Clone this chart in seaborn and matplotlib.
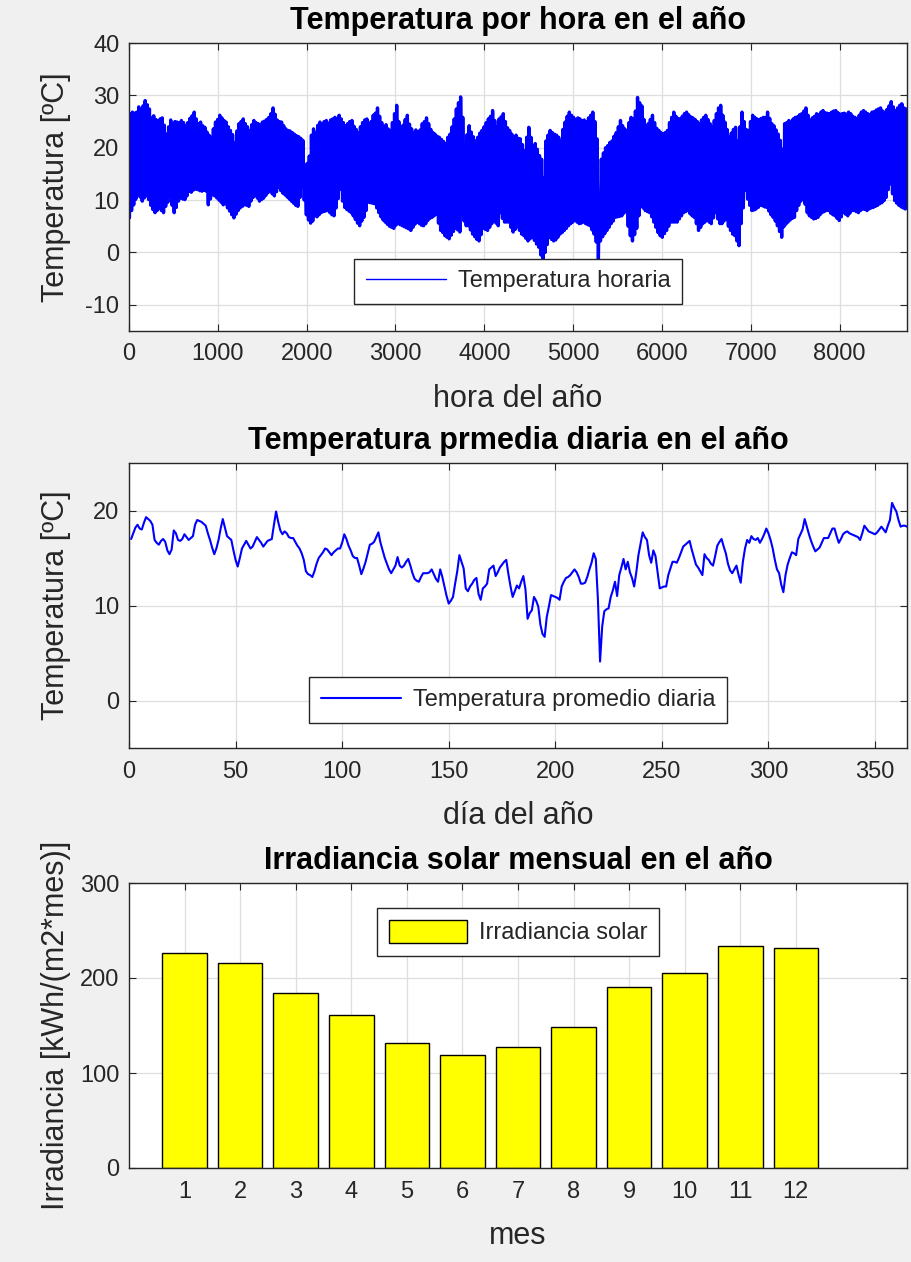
import numpy as np
import pandas as pd
import matplotlib
matplotlib.use("Agg")
import matplotlib.pyplot as plt
import seaborn as sns

# Daily extremes of the hourly temperature record (ºC), day 1..365
temp_max_diaria = [
    26.5, 26.8, 26.6, 26.8, 27.8, 27.2, 28.0, 29.0, 28.2, 27.4,
    25.7, 26.1, 25.4, 25.2, 25.5, 25.7, 24.3, 22.6, 24.0, 25.3,
    24.6, 25.0, 24.9, 24.7, 25.2, 24.8, 24.2, 24.8, 25.6, 26.1,
    26.8, 25.5, 24.6, 24.9, 24.2, 23.9, 23.0, 22.4, 22.0, 23.6,
    24.9, 25.4, 26.2, 25.7, 25.2, 24.9, 24.0, 23.3, 22.5, 21.0,
    23.2, 24.6, 25.0, 25.5, 24.6, 24.0, 23.3, 24.4, 25.2, 24.8,
    24.6, 24.3, 24.9, 25.1, 25.4, 25.8, 26.5, 27.6, 26.4, 25.3,
    25.0, 24.9, 24.2, 23.6, 23.3, 23.2, 22.9, 22.6, 22.3, 22.1,
    21.8, 21.4, 16.2, 17.0, 18.4, 22.4, 23.6, 22.9, 24.3, 24.9,
    24.5, 25.0, 25.2, 24.7, 25.3, 25.5, 25.8, 25.6, 26.2, 25.5,
    24.8, 24.2, 24.6, 25.0, 25.2, 24.1, 23.5, 22.9, 24.0, 24.8,
    25.3, 25.5, 23.9, 25.0, 26.2, 26.6, 27.6, 26.0, 24.8, 23.9,
    24.4, 23.6, 23.3, 24.8, 26.5, 28.1, 25.0, 22.6, 24.3, 25.4,
    26.2, 24.5, 23.6, 22.9, 23.4, 22.3, 23.4, 24.6, 25.0, 25.7,
    24.6, 23.5, 22.9, 22.6, 22.2, 22.0, 21.6, 21.2, 20.7, 22.0,
    22.6, 24.0, 25.5, 27.4, 28.6, 29.7, 25.8, 20.0, 22.5, 24.2,
    23.0, 22.1, 21.3, 22.0, 22.8, 23.3, 24.0, 24.8, 25.5, 26.0,
    27.1, 25.2, 23.9, 25.5, 25.9, 26.5, 25.0, 23.8, 23.3, 22.6,
    22.0, 22.4, 21.8, 21.7, 20.6, 19.4, 22.0, 23.9, 22.0, 20.4,
    20.8, 19.7, 18.5, 17.8, 14.3, 21.3, 22.4, 23.3, 22.9, 22.6,
    22.4, 22.0, 21.3, 23.5, 24.9, 26.0, 26.8, 26.2, 25.8, 25.4,
    25.7, 25.5, 25.2, 25.3, 25.0, 25.7, 26.2, 26.8, 25.0, 21.7,
    8.6, 17.8, 19.0, 20.0, 20.4, 21.0, 21.3, 22.2, 22.9, 24.0,
    25.2, 24.2, 23.6, 23.3, 24.8, 25.8, 25.5, 27.0, 29.6, 28.6,
    28.0, 25.4, 24.2, 24.6, 25.4, 26.2, 24.8, 23.7, 23.3, 22.9,
    22.6, 22.9, 23.3, 24.8, 25.8, 26.8, 26.0, 25.6, 25.5, 26.0,
    26.5, 26.8, 26.3, 25.9, 25.7, 25.4, 25.0, 24.6, 25.3, 25.8,
    26.2, 25.4, 24.6, 23.9, 25.2, 26.5, 27.6, 28.1, 26.2, 24.9,
    23.5, 22.0, 22.8, 23.5, 23.9, 21.3, 24.0, 26.8, 25.0, 23.5,
    23.3, 25.0, 26.2, 25.8, 25.5, 25.4, 25.6, 25.8, 25.8, 26.8,
    25.6, 24.6, 24.2, 23.4, 22.6, 21.4, 19.7, 24.6, 24.8, 25.2,
    25.0, 25.5, 25.8, 25.9, 26.3, 26.5, 27.0, 27.6, 26.2, 25.2,
    25.7, 26.0, 26.5, 26.3, 26.8, 27.1, 26.7, 26.6, 26.5, 26.8,
    27.0, 27.1, 26.7, 26.4, 26.5, 26.6, 26.4, 26.8, 26.5, 26.0,
    25.8, 25.5, 26.2, 26.8, 27.1, 26.8, 26.5, 26.3, 26.8, 26.9,
    27.2, 27.4, 27.6, 27.0, 26.8, 27.3, 28.0, 28.8, 27.8, 27.1,
    27.6, 28.1, 28.4, 27.6, 27.4,
]

temp_min_diaria = [
    6.6, 8.0, 9.1, 10.2, 11.4, 10.6, 9.8, 10.4, 10.8, 10.1,
    9.0, 8.2, 7.6, 8.0, 8.5, 8.0, 7.6, 8.8, 9.6, 10.8,
    9.0, 7.6, 8.6, 9.8, 10.4, 10.2, 10.1, 10.8, 11.7, 11.5,
    11.9, 12.1, 12.0, 11.8, 11.7, 11.9, 11.7, 9.1, 10.2, 11.0,
    10.8, 10.4, 10.0, 9.6, 9.1, 9.3, 8.5, 7.9, 7.2, 6.6,
    7.3, 8.0, 8.5, 8.8, 9.1, 9.0, 8.8, 9.8, 10.5, 11.0,
    10.4, 9.8, 10.1, 10.4, 10.9, 11.4, 11.7, 11.2, 10.8, 11.6,
    12.4, 11.8, 11.3, 11.0, 10.6, 10.2, 9.8, 9.4, 9.0, 8.8,
    10.5, 12.4, 10.0, 7.2, 6.2, 5.6, 6.0, 7.0, 6.8, 7.2,
    7.6, 7.8, 7.9, 8.0, 7.6, 7.2, 7.0, 8.5, 10.3, 12.1,
    9.8, 8.6, 8.2, 7.9, 7.6, 7.0, 6.3, 5.6, 5.1, 6.0,
    6.7, 8.0, 9.6, 9.5, 9.4, 9.3, 8.5, 7.6, 6.8, 6.2,
    5.8, 5.4, 5.0, 4.8, 4.6, 5.2, 5.5, 5.3, 5.1, 4.9,
    4.7, 4.5, 4.2, 4.8, 5.4, 5.8, 5.5, 5.2, 5.1, 5.5,
    6.1, 6.5, 6.7, 7.0, 7.3, 5.6, 4.2, 3.8, 3.2, 2.9,
    2.6, 3.3, 4.0, 4.6, 4.3, 3.9, 7.1, 6.0, 5.1, 5.1,
    4.3, 3.5, 3.0, 2.5, 2.2, 3.4, 4.6, 4.4, 4.2, 4.8,
    5.5, 6.1, 5.6, 5.1, 7.6, 6.5, 5.8, 5.8, 5.8, 4.8,
    3.9, 4.4, 4.9, 4.2, 3.5, 3.2, 2.7, 2.2, 2.6, 2.9,
    2.3, 1.6, 1.0, -0.5, -1.3, 0.0, 1.5, 2.9, 2.5, 2.2,
    2.4, 2.9, 3.5, 3.8, 4.2, 4.6, 5.1, 5.5, 5.8, 6.1,
    5.8, 5.5, 5.6, 5.8, 5.5, 5.3, 5.1, 4.3, 3.5, 2.0,
    -1.3, 2.2, 3.0, 3.6, 4.2, 4.8, 5.5, 6.0, 6.7, 6.8,
    6.9, 7.0, 7.5, 8.0, 5.0, 3.2, 2.2, 3.4, 4.6, 7.0,
    9.4, 8.5, 8.0, 7.8, 7.6, 6.8, 5.8, 4.8, 3.8, 3.2,
    2.9, 3.6, 4.2, 5.0, 5.8, 5.8, 5.8, 5.8, 6.4, 7.0,
    7.6, 7.8, 8.0, 7.4, 7.0, 6.7, 5.5, 4.2, 4.8, 5.5,
    5.8, 6.1, 5.8, 5.5, 6.6, 7.6, 6.4, 5.5, 5.5, 6.0,
    6.4, 5.0, 4.2, 3.5, 3.2, 2.2, 1.3, 5.5, 8.5, 11.9,
    10.2, 9.0, 8.0, 8.1, 8.3, 8.6, 9.0, 8.9, 8.7, 8.6,
    7.9, 7.2, 6.7, 6.0, 5.1, 4.0, 2.9, 4.9, 5.4, 5.8,
    6.2, 6.5, 6.7, 8.0, 9.0, 9.8, 10.6, 9.2, 7.6, 7.0,
    6.7, 6.4, 6.5, 6.7, 7.2, 7.6, 7.8, 8.0, 8.0, 7.5,
    7.2, 7.0, 6.5, 6.1, 6.8, 7.6, 7.3, 7.0, 7.5, 8.0,
    8.0, 7.8, 7.6, 8.0, 8.3, 8.2, 8.0, 8.3, 8.5, 8.6,
    8.8, 9.0, 9.3, 9.5, 9.9, 10.5, 12.0, 13.1, 11.2, 9.9,
    9.4, 9.0, 8.7, 8.5, 8.3,
]

# Daily mean temperature (ºC), day 1..365
temp_media_diaria = [
    17.0, 17.6, 18.2, 18.5, 18.1, 18.0, 18.7, 19.3, 19.1, 18.9,
    18.5, 16.9, 16.6, 16.4, 16.8, 17.0, 16.7, 15.8, 15.4, 15.9,
    17.9, 17.6, 16.9, 16.8, 17.0, 17.5, 17.2, 16.9, 17.1, 17.3,
    18.5, 19.0, 18.9, 18.8, 18.6, 18.4, 17.6, 16.9, 16.1, 15.4,
    16.0, 16.9, 18.1, 19.1, 18.2, 17.3, 17.1, 16.9, 15.8, 14.8,
    14.1, 15.0, 16.0, 16.4, 16.8, 16.4, 16.0, 16.2, 16.7, 17.2,
    16.9, 16.6, 16.2, 16.5, 16.8, 16.9, 17.0, 18.5, 19.9, 18.8,
    17.9, 17.5, 17.8, 17.6, 17.2, 17.1, 17.1, 16.7, 16.3, 16.0,
    15.5, 14.8, 13.6, 13.3, 13.2, 13.0, 13.6, 14.4, 15.0, 15.3,
    15.6, 16.0, 15.9, 15.6, 15.3, 15.6, 15.8, 16.0, 16.0, 16.6,
    17.5, 17.0, 16.3, 15.8, 15.2, 15.0, 15.0, 14.2, 13.3, 13.9,
    14.6, 15.5, 16.4, 16.5, 16.7, 17.2, 17.7, 16.6, 15.8, 15.0,
    14.4, 13.8, 13.4, 13.8, 14.2, 15.1, 14.2, 14.0, 14.2, 14.6,
    14.9, 14.2, 13.4, 12.8, 12.6, 12.5, 13.0, 13.4, 13.4, 13.4,
    13.5, 13.8, 13.3, 12.8, 12.5, 13.8, 13.0, 12.0, 11.0, 10.2,
    10.5, 10.9, 12.3, 13.6, 15.3, 14.6, 13.9, 11.8, 11.5, 12.0,
    12.3, 12.7, 12.9, 11.2, 10.6, 11.8, 12.0, 12.3, 13.8, 14.0,
    14.2, 13.1, 13.5, 14.0, 14.3, 14.6, 14.8, 13.3, 12.0, 10.9,
    11.5, 12.1, 11.8, 12.5, 13.1, 11.7, 8.6, 9.2, 9.5, 10.9,
    10.5, 9.9, 8.0, 7.0, 6.7, 8.8, 9.9, 11.1, 11.0, 10.9,
    10.8, 10.6, 12.0, 12.5, 12.9, 13.0, 13.2, 13.5, 13.8, 13.5,
    13.0, 12.3, 12.3, 12.4, 13.0, 13.8, 14.5, 15.5, 14.9, 10.6,
    4.1, 7.8, 9.4, 9.6, 9.7, 10.9, 11.6, 12.5, 11.0, 13.2,
    14.0, 14.9, 13.8, 14.6, 13.5, 12.9, 12.0, 13.5, 15.3, 16.5,
    17.7, 17.2, 16.9, 15.3, 14.5, 15.8, 15.2, 13.5, 11.8, 11.9,
    12.0, 12.0, 13.2, 13.9, 14.6, 14.6, 14.5, 15.0, 15.6, 16.2,
    16.4, 16.6, 16.8, 15.9, 15.1, 14.3, 14.0, 13.6, 13.2, 15.4,
    15.0, 14.8, 14.4, 14.2, 15.2, 16.3, 16.7, 17.0, 16.2, 15.5,
    14.4, 13.7, 13.4, 13.8, 14.2, 13.2, 12.4, 14.6, 16.0, 16.9,
    16.6, 17.3, 17.0, 16.9, 17.1, 16.6, 17.0, 17.5, 18.1, 17.6,
    16.9, 16.0, 14.8, 13.8, 13.4, 12.2, 11.4, 13.2, 14.3, 15.0,
    15.6, 15.5, 15.3, 17.0, 17.5, 18.0, 19.1, 18.3, 17.5, 16.8,
    16.2, 15.7, 15.9, 16.1, 16.6, 17.1, 17.1, 17.1, 17.6, 18.1,
    18.1, 17.3, 16.6, 17.0, 17.5, 17.7, 17.8, 17.6, 17.5, 17.4,
    17.3, 17.2, 16.9, 17.6, 18.4, 18.1, 17.8, 17.7, 17.6, 17.5,
    17.7, 18.0, 18.3, 18.0, 17.7, 18.4, 19.0, 20.8, 20.3, 19.9,
    19.0, 18.3, 18.4, 18.4, 18.3,
]

# Monthly solar irradiation (kWh/(m2*mes))
meses = [1, 2, 3, 4, 5, 6, 7, 8, 9, 10, 11, 12]
irradiancia = [226, 216, 184, 161, 132, 119, 127, 148, 191, 205, 234, 232]

assert len(temp_max_diaria) == 365, len(temp_max_diaria)
assert len(temp_min_diaria) == 365, len(temp_min_diaria)
assert len(temp_media_diaria) == 365, len(temp_media_diaria)

# ---- styling ---------------------------------------------------------------
sns.set_style("ticks")
plt.rcParams["font.family"] = ["Liberation Sans", "DejaVu Sans"]
INK = "#262626"
GRID = "#dedede"
plt.rcParams.update({
    "axes.edgecolor": INK,
    "axes.linewidth": 1.0,
    "axes.unicode_minus": False,
    "xtick.color": INK,
    "ytick.color": INK,
    "xtick.labelcolor": INK,
    "ytick.labelcolor": INK,
    "axes.labelcolor": INK,
})

TICK_FS = 17
LABEL_FS = 22
TITLE_FS = 22
LEG_FS = 17

fig = plt.figure(figsize=(9.11, 12.62), dpi=100, facecolor="#f0f0f0")
W, H = 911.0, 1262.0
ax1 = fig.add_axes([129 / W, 1 - 331 / H, 778 / W, 288 / H])
ax2 = fig.add_axes([129 / W, 1 - 748 / H, 778 / W, 285 / H])
ax3 = fig.add_axes([129 / W, 1 - 1168 / H, 778 / W, 285 / H])


def estilo(ax):
    ax.set_facecolor("white")
    ax.grid(True, color=GRID, linewidth=0.9)
    ax.set_axisbelow(True)
    for s in ax.spines.values():
        s.set_visible(True)
        s.set_color(INK)
        s.set_linewidth(1.0)
    ax.tick_params(direction="in", length=5, width=0.8, top=True, right=True,
                   labelsize=TICK_FS, pad=9)
    ax.tick_params(axis="y", pad=7)


def leyenda(ax, y, handlelength=3.4, handleheight=0.7):
    leg = ax.legend(loc="center", bbox_to_anchor=(0.5, y), fontsize=LEG_FS,
                    frameon=True, fancybox=False, framealpha=1.0,
                    handlelength=handlelength, handleheight=handleheight,
                    handletextpad=0.5, borderpad=0.5, borderaxespad=0)
    leg.get_frame().set_edgecolor(INK)
    leg.get_frame().set_linewidth(1.0)
    for t in leg.get_texts():
        t.set_color(INK)
    return leg


# ---- hourly temperature ----------------------------------------------------
dias = np.arange(365)
horas = np.empty(2 * 365)
horas[0::2] = dias * 24 + 5
horas[1::2] = dias * 24 + 14
temp_horaria = np.empty(2 * 365)
temp_horaria[0::2] = temp_min_diaria
temp_horaria[1::2] = temp_max_diaria
df_h = pd.DataFrame({"hora": horas, "temp": temp_horaria})
sns.lineplot(data=df_h, x="hora", y="temp", ax=ax1, color="#0000ff",
             linewidth=2.4, estimator=None, sort=False)
ax1.plot([], [], color="#0000ff", linewidth=1.0, label="Temperatura horaria")
ax1.set_xlim(0, 8760)
ax1.set_ylim(-15, 40)
ax1.set_xticks(np.arange(0, 8001, 1000))
ax1.set_yticks(np.arange(-10, 41, 10))
estilo(ax1)
ax1.set_title("Temperatura por hora en el año", fontsize=TITLE_FS,
              fontweight="bold", pad=10, color="black")
ax1.set_xlabel("hora del año", fontsize=LABEL_FS)
ax1.set_ylabel("Temperatura [ºC]", fontsize=LABEL_FS)
leyenda(ax1, 0.172)

# ---- daily mean temperature -----------------------------------------------
df_d = pd.DataFrame({"dia": np.arange(1, 366), "temp": temp_media_diaria})
sns.lineplot(data=df_d, x="dia", y="temp", ax=ax2, color="#0000ff",
             linewidth=1.5, estimator=None,
             label="Temperatura promedio diaria")
ax2.set_xlim(0, 365)
ax2.set_ylim(-5, 25)
ax2.set_xticks(np.arange(0, 351, 50))
ax2.set_yticks([0, 10, 20])
estilo(ax2)
ax2.set_title("Temperatura prmedia diaria en el año", fontsize=TITLE_FS,
              fontweight="bold", pad=10, color="black")
ax2.set_xlabel("día del año", fontsize=LABEL_FS)
ax2.set_ylabel("Temperatura [ºC]", fontsize=LABEL_FS)
leyenda(ax2, 0.168)

# ---- monthly irradiation ---------------------------------------------------
df_m = pd.DataFrame({"mes": meses, "irr": irradiancia})
sns.barplot(data=df_m, x="mes", y="irr", ax=ax3, native_scale=True,
            color="#ffff00", saturation=1, edgecolor="black", linewidth=1.0,
            width=0.8, label="Irradiancia solar")
ax3.set_xlim(0, 14)
ax3.set_ylim(0, 300)
ax3.set_xticks(meses)
ax3.set_yticks([0, 100, 200, 300])
estilo(ax3)
ax3.set_title("Irradiancia solar mensual en el año", fontsize=TITLE_FS,
              fontweight="bold", pad=10, color="black")
ax3.set_xlabel("mes", fontsize=LABEL_FS)
ax3.set_ylabel("Irradiancia [kWh/(m2*mes)]", fontsize=LABEL_FS)
leyenda(ax3, 0.828, handlelength=3.3, handleheight=1.1)

for ax in (ax1, ax2, ax3):
    ax.xaxis.set_label_coords(0.5, -0.185)
    ax.yaxis.set_label_coords(-0.075, 0.5)

fig.savefig("out.png", dpi=100, facecolor=fig.get_facecolor())
